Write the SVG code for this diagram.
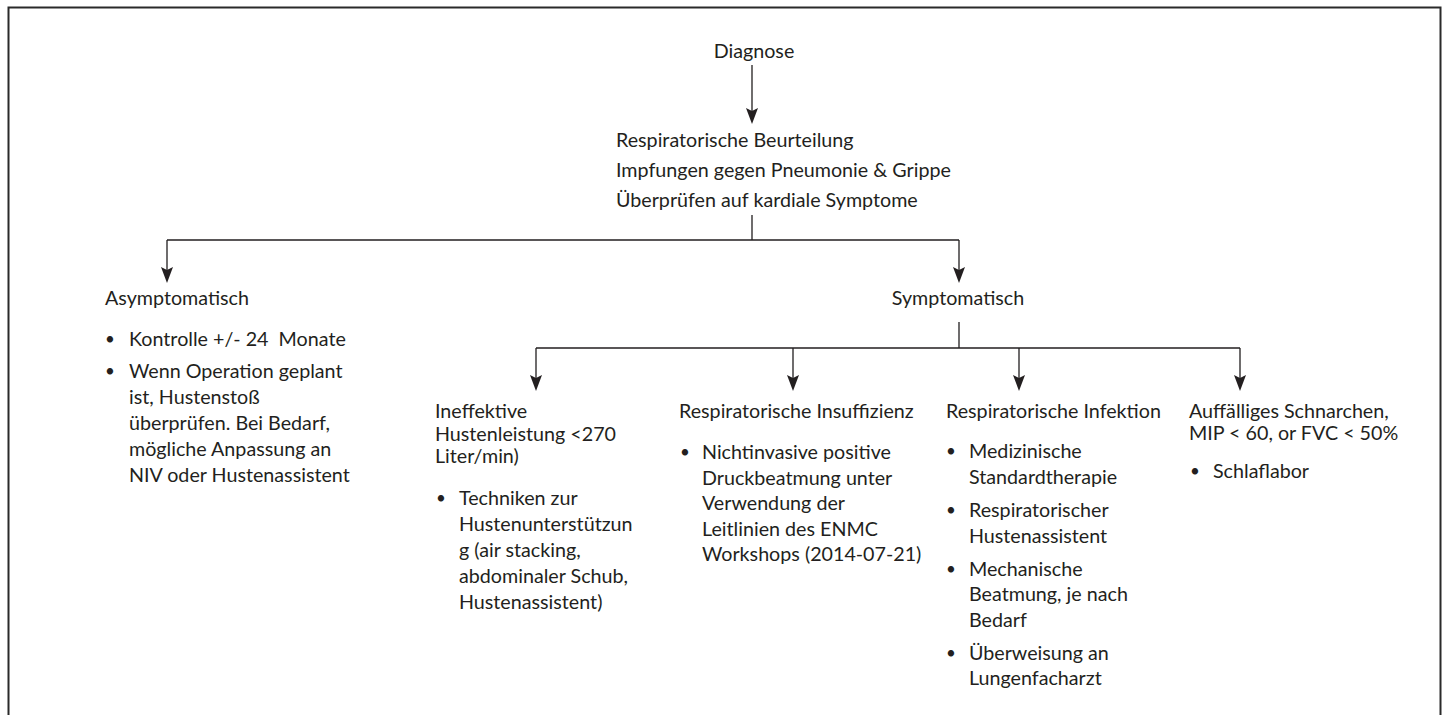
<svg xmlns="http://www.w3.org/2000/svg" width="1449" height="715" viewBox="0 0 1449 715">
<style>
text{font-family:Lato,"Liberation Sans",sans-serif;font-size:19.7px;fill:#231f20}
text.b{font-size:17px}
.pre{white-space:pre}
.ln{stroke:#231f20;stroke-width:1.3;fill:none}
.ah{fill:#231f20}
</style>
<rect x="8.5" y="7.5" width="1432" height="720" fill="#fff" stroke="#2a2a2a" stroke-width="2"/>
<g id="connectors">
<path class="ln" d="M752,65 V115"/>
<polygon class="ah" points="746,108 752,111 758,108 752,124"/>
<path class="ln" d="M752,215 V240 M167,240 H959 M167,240 V274 M959,240 V274"/>
<polygon class="ah" points="161,267 167,270 173,267 167,283"/>
<polygon class="ah" points="953,267 959,270 965,267 959,283"/>
<path class="ln" d="M959,322 V348 M536,348 H1240 M536,348 V382 M793,348 V382 M1019,348 V382 M1240,348 V382"/>
<polygon class="ah" points="530,375 536,378 542,375 536,391"/>
<polygon class="ah" points="787,375 793,378 799,375 793,391"/>
<polygon class="ah" points="1013,375 1019,378 1025,375 1019,391"/>
<polygon class="ah" points="1234,375 1240,378 1246,375 1240,391"/>
</g>
<g id="diagnose"><text x="754" y="58" text-anchor="middle">Diagnose</text></g>
<g id="beurteilung">
<text x="616" y="147">Respiratorische Beurteilung</text>
<text x="616" y="177">Impfungen gegen Pneumonie &amp; Grippe</text>
<text x="616" y="207">Überprüfen auf kardiale Symptome</text>
</g>
<g id="asymptomatisch">
<text x="105" y="305">Asymptomatisch</text>
<text class="b" x="105" y="345">•</text><text class="pre" x="129" y="346" xml:space="preserve">Kontrolle +/- 24  Monate</text>
<text class="b" x="105" y="377">•</text><text x="129" y="378">Wenn Operation geplant</text>
<text x="129" y="404">ist, Hustenstoß</text>
<text x="129" y="430">überprüfen. Bei Bedarf,</text>
<text x="129" y="456">mögliche Anpassung an</text>
<text x="129" y="482">NIV oder Hustenassistent</text>
</g>
<g id="symptomatisch"><text x="958" y="305" text-anchor="middle">Symptomatisch</text></g>
<g id="husten">
<text x="435" y="418">Ineffektive</text>
<text x="435" y="441">Hustenleistung &lt;270</text>
<text x="435" y="463">Liter/min)</text>
<text class="b" x="436" y="504">•</text><text x="459" y="505">Techniken zur</text>
<text x="459" y="531">Hustenunterstützun</text>
<text x="459" y="557">g (air stacking,</text>
<text x="459" y="583">abdominaler Schub,</text>
<text x="459" y="609">Hustenassistent)</text>
</g>
<g id="insuffizienz">
<text x="679" y="418">Respiratorische Insuffizienz</text>
<text class="b" x="680" y="458">•</text><text x="702" y="459">Nichtinvasive positive</text>
<text x="702" y="485">Druckbeatmung unter</text>
<text x="702" y="510">Verwendung der</text>
<text x="702" y="536">Leitlinien des ENMC</text>
<text x="702" y="561">Workshops (2014-07-21)</text>
</g>
<g id="infektion">
<text x="946" y="418">Respiratorische Infektion</text>
<text class="b" x="946" y="457">•</text><text x="969" y="458">Medizinische</text>
<text x="969" y="484">Standardtherapie</text>
<text class="b" x="946" y="516">•</text><text x="969" y="517">Respiratorischer</text>
<text x="969" y="543">Hustenassistent</text>
<text class="b" x="946" y="575">•</text><text x="969" y="576">Mechanische</text>
<text x="969" y="601">Beatmung, je nach</text>
<text x="969" y="627">Bedarf</text>
<text class="b" x="946" y="659">•</text><text x="969" y="660">Überweisung an</text>
<text x="969" y="685">Lungenfacharzt</text>
</g>
<g id="schnarchen">
<text x="1189" y="418">Auffälliges Schnarchen,</text>
<text x="1189" y="440">MIP &lt; 60, or FVC &lt; 50%</text>
<text class="b" x="1190" y="477">•</text><text x="1213" y="478">Schlaflabor</text>
</g>
</svg>
